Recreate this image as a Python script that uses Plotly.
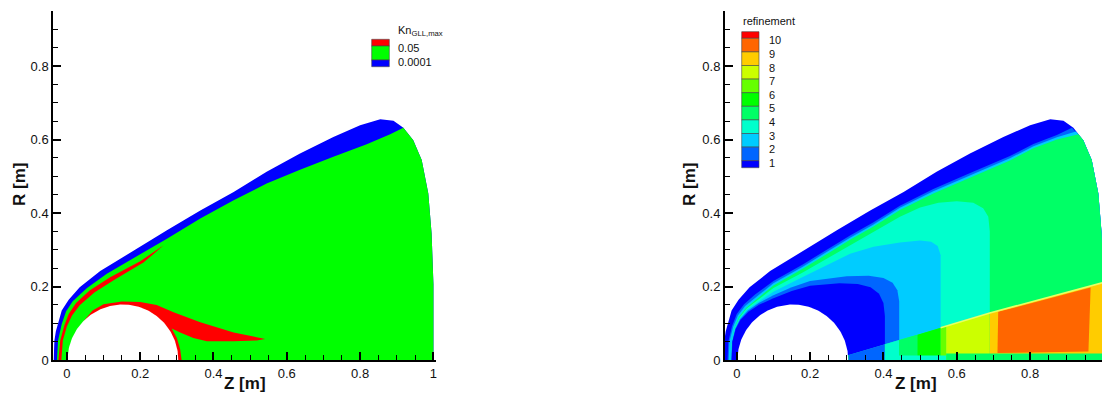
import numpy as np
import plotly.graph_objects as go

W, H = 1102, 394

# ---------------- data (Z, R in metres) ----------------
# outer boundary of the computational domain (same for both panels)
domain_z = [-0.036, -0.0355, -0.034, -0.030, -0.025, -0.014, 0.005, 0.035, 0.091, 0.182, 0.273, 0.364,
            0.455, 0.545, 0.636, 0.727, 0.800, 0.855, 0.891, 0.918, 0.945, 0.968, 0.986, 0.995, 1.000, 1.000]
domain_r = [0.000, 0.025, 0.053, 0.078, 0.098, 0.135, 0.164, 0.198, 0.242, 0.298, 0.353, 0.407,
            0.457, 0.512, 0.562, 0.607, 0.639, 0.655, 0.651, 0.632, 0.598, 0.544, 0.453, 0.344, 0.207, 0.000]
domain_back_start = 20  # first point of the rear (right-hand) side of the boundary

sphere_center_z = 0.153
sphere_radius = 0.151

# ---- left panel: Kn_GLL,max ----
kn_blue_inner_z = [-0.027, -0.024, -0.014, -0.002, 0.016, 0.055, 0.109, 0.191, 0.273, 0.364, 0.455,
                   0.545, 0.636, 0.727, 0.818, 0.882, 0.918]
kn_blue_inner_r = [0.000, 0.053, 0.098, 0.133, 0.160, 0.196, 0.235, 0.282, 0.330, 0.385, 0.435,
                   0.480, 0.518, 0.553, 0.587, 0.614, 0.632]
kn_shock_red_z = [-0.023, -0.018, -0.007, 0.005, 0.025, 0.062, 0.118, 0.200, 0.264,
                  0.209, 0.132, 0.075, 0.035, 0.014, 0.000, -0.011, -0.015]
kn_shock_red_r = [0.000, 0.053, 0.094, 0.125, 0.155, 0.189, 0.225, 0.269, 0.312,
                  0.265, 0.220, 0.184, 0.149, 0.121, 0.091, 0.053, 0.000]
kn_wake_red_z = [0.153, 0.045, 0.070, 0.100, 0.150, 0.200, 0.245, 0.291, 0.364, 0.455, 0.518, 0.541,
                 0.518, 0.455, 0.382, 0.345, 0.309, 0.286, 0.300, 0.309, 0.313]
kn_wake_red_r = [0.000, 0.105, 0.135, 0.152, 0.159, 0.158, 0.150, 0.130, 0.103, 0.075, 0.062, 0.057,
                 0.053, 0.051, 0.051, 0.060, 0.075, 0.086, 0.060, 0.030, 0.000]
kn_legend_labels = ["0.05", "0.0001"]

# ---- right panel: refinement ----
ref_layer1_z = [-0.025, -0.023, -0.013, 0.000, 0.020, 0.050, 0.100, 0.180, 0.309, 0.373, 0.445, 0.536,
                0.627, 0.682, 0.745, 0.809, 0.873, 0.914]
ref_layer1_r = [0.000, 0.050, 0.092, 0.125, 0.152, 0.178, 0.215, 0.260, 0.339, 0.375, 0.420, 0.465,
                0.505, 0.528, 0.555, 0.588, 0.612, 0.632]
ref_layer2_z = [-0.022, -0.020, -0.010, 0.003, 0.023, 0.053, 0.100, 0.180, 0.309, 0.373, 0.445, 0.536,
                0.627, 0.682, 0.745, 0.809, 0.873, 0.925]
ref_layer2_r = [0.000, 0.050, 0.090, 0.121, 0.147, 0.172, 0.209, 0.254, 0.333, 0.369, 0.414, 0.459,
                0.499, 0.522, 0.549, 0.582, 0.606, 0.622]
ref_layer4_z = [-0.015, -0.013, -0.006, 0.006, 0.026, 0.056, 0.100, 0.180, 0.309, 0.373, 0.445, 0.536,
                0.627, 0.682, 0.745, 0.809, 0.873, 0.932]
ref_layer4_r = [0.000, 0.050, 0.088, 0.117, 0.142, 0.166, 0.203, 0.248, 0.327, 0.363, 0.408, 0.453,
                0.493, 0.516, 0.543, 0.576, 0.600, 0.614]
ref_lvl3_z = [-0.015, -0.013, -0.006, 0.007, 0.027, 0.057, 0.100, 0.180, 0.250, 0.309, 0.373, 0.445,
              0.500, 0.550, 0.600, 0.645, 0.672, 0.686, 0.690, 0.690]
ref_lvl3_r = [0.000, 0.050, 0.087, 0.115, 0.140, 0.163, 0.196, 0.238, 0.278, 0.312, 0.350, 0.390,
              0.415, 0.428, 0.432, 0.428, 0.413, 0.390, 0.350, 0.128]
ref_lvl2_z = [-0.015, -0.013, -0.005, 0.008, 0.028, 0.058, 0.100, 0.180, 0.250, 0.309, 0.373, 0.445,
              0.500, 0.530, 0.548, 0.556, 0.556]
ref_lvl2_r = [0.000, 0.050, 0.086, 0.113, 0.137, 0.158, 0.186, 0.226, 0.260, 0.289, 0.308, 0.320,
              0.325, 0.322, 0.310, 0.285, 0.088]
ref_lvl1_z = [-0.015, -0.0125, -0.004, 0.009, 0.030, 0.060, 0.100, 0.150, 0.200, 0.300, 0.360, 0.400,
              0.425, 0.438, 0.443, 0.443]
ref_lvl1_r = [0.000, 0.050, 0.085, 0.111, 0.134, 0.155, 0.176, 0.198, 0.215, 0.228, 0.229, 0.223,
              0.210, 0.190, 0.160, 0.0545]
ref_lvl0_z = [-0.014, -0.012, -0.003, 0.010, 0.032, 0.062, 0.100, 0.150, 0.200, 0.280, 0.330, 0.365,
              0.388, 0.400, 0.404, 0.404]
ref_lvl0_r = [0.000, 0.050, 0.084, 0.109, 0.131, 0.151, 0.168, 0.188, 0.202, 0.209, 0.207, 0.198,
              0.180, 0.155, 0.120, 0.043]
# wake wedge below the oblique line, split in axial strips
wedge_edges_z = [0.305, 0.404, 0.443, 0.468, 0.493, 0.556, 0.571, 0.690, 1.000]
wedge_edges_r = [0.0135, 0.043, 0.0545, 0.062, 0.069, 0.088, 0.0926, 0.128, 0.211]
wedge_levels = [1, 3, 4, 4, 5, 6, 7, 8]
bottom_edges_z = [0.404, 0.571, 1.000]
bottom_heights = [0.012, 0.018]
bottom_levels = [3, 4]
orange_z = [0.711, 0.959, 0.965, 0.713]
orange_r = [0.019, 0.023, 0.197, 0.131]
orange_level = 9
ref_legend_labels = ["10", "9", "8", "7", "6", "5", "4", "3", "2", "1"]

# ---------------- styles ----------------
KN_BLUE, KN_GREEN, KN_RED = "#0000FF", "#00FF00", "#FF0000"
REF_PALETTE = ["#0000FF", "#0066FF", "#00CCFF", "#00FFCC", "#00FF66", "#00FF00",
               "#66FF00", "#CCFF00", "#FFCC00", "#FF6600", "#FF0000"]
FONT = "Liberation Sans, Arial, Helvetica, sans-serif"

fig = go.Figure()


def poly(z, r, color, ax="x", ay="y"):
    fig.add_trace(go.Scatter(x=list(z), y=list(r), xaxis=ax, yaxis=ay, mode="lines",
                             fill="toself", fillcolor=color, line=dict(width=0, color=color),
                             hoverinfo="skip", showlegend=False))


back_z = domain_z[domain_back_start:]
back_r = domain_r[domain_back_start:]
theta = np.linspace(0, np.pi, 121)
sph_z = sphere_center_z + sphere_radius * np.cos(theta)
sph_r = sphere_radius * np.sin(theta)

# ---- left panel ----
poly(domain_z, domain_r, KN_BLUE)
poly(kn_blue_inner_z + back_z, kn_blue_inner_r + back_r, KN_GREEN)
poly(kn_shock_red_z, kn_shock_red_r, KN_RED)
poly(kn_wake_red_z, kn_wake_red_r, KN_RED)
poly(sph_z, sph_r, "#FFFFFF")

# ---- right panel ----
A2 = dict(ax="x2", ay="y2")
poly(domain_z, domain_r, REF_PALETTE[0], **A2)
poly(ref_layer1_z + back_z, ref_layer1_r + back_r, REF_PALETTE[1], **A2)
poly(ref_layer2_z + back_z, ref_layer2_r + back_r, REF_PALETTE[2], **A2)
poly(ref_layer4_z + back_z, ref_layer4_r + back_r, REF_PALETTE[4], **A2)
line_start = (wedge_edges_z[0], wedge_edges_r[0])
for lz, lr, lev in [(ref_lvl3_z, ref_lvl3_r, 3), (ref_lvl2_z, ref_lvl2_r, 2),
                    (ref_lvl1_z, ref_lvl1_r, 1), (ref_lvl0_z, ref_lvl0_r, 0)]:
    poly(lz + [line_start[0], sphere_center_z], lr + [line_start[1], 0.0], REF_PALETTE[lev], **A2)
for i, lev in enumerate(wedge_levels):
    z0, z1 = wedge_edges_z[i], wedge_edges_z[i + 1]
    r0, r1 = wedge_edges_r[i], wedge_edges_r[i + 1]
    poly([z0, z1, z1, z0], [0.0, 0.0, r1, r0], REF_PALETTE[lev], **A2)
for i, lev in enumerate(bottom_levels):
    z0, z1 = bottom_edges_z[i], bottom_edges_z[i + 1]
    hh = bottom_heights[i]
    poly([z0, z1, z1, z0], [0.0, 0.0, hh, hh], REF_PALETTE[lev], **A2)
poly(orange_z, orange_r, REF_PALETTE[orange_level], **A2)
fig.add_trace(go.Scatter(x=wedge_edges_z[5:], y=wedge_edges_r[5:], xaxis="x2", yaxis="y2",
                         mode="lines", line=dict(color="#E6FF66", width=1.5),
                         hoverinfo="skip", showlegend=False))
poly(sph_z, sph_r, "#FFFFFF", **A2)

# ---------------- axes ----------------
ydom = [(H - 360) / H, (H - 10.9) / H]
common = dict(showline=True, linecolor="black", linewidth=2, ticks="inside", ticklen=8,
              tickwidth=2, tickcolor="black", tick0=0, dtick=0.2, showgrid=False, zeroline=False,
              automargin=False,
              tickfont=dict(family=FONT, size=13, color="#111"),
              minor=dict(ticks="inside", dtick=0.05, ticklen=5, tickwidth=1, tickcolor="black",
                         showgrid=False))
fig.update_layout(
    template="none",
    width=W, height=H, autosize=False, margin=dict(l=0, r=0, t=0, b=0, autoexpand=False),
    paper_bgcolor="white", plot_bgcolor="white", showlegend=False,
    xaxis=dict(domain=[53.3 / W, 436 / W], range=[-0.037, 1.007], anchor="y", **common),
    yaxis=dict(domain=ydom, range=[0, 0.95], anchor="x", **common),
    xaxis2=dict(domain=[725 / W, 1.0], range=[-0.032, 0.996], anchor="y2", **common),
    yaxis2=dict(domain=ydom, range=[0, 0.95], anchor="x2", **common),
)

ann = []
def text(px, py, s, size, bold=False, anchor="center", angle=0):
    ann.append(dict(x=px / W, y=1 - py / H, xref="paper", yref="paper", text=f"<b>{s}</b>" if bold else s,
                    showarrow=False, xanchor=anchor, yanchor="middle", textangle=angle,
                    font=dict(family=FONT, size=size, color="#111")))

text(245, 383, "Z [m]", 17, bold=True)
text(19, 185, "R [m]", 17, bold=True, angle=-90)
text(915.5, 383, "Z [m]", 17, bold=True)
text(689, 185, "R [m]", 17, bold=True, angle=-90)

shapes = []
def rect(x0, x1, y0, y1, color):
    shapes.append(dict(type="rect", xref="paper", yref="paper", x0=x0 / W, x1=x1 / W,
                       y0=1 - y1 / H, y1=1 - y0 / H, fillcolor=color,
                       line=dict(color="#444", width=0.6), layer="above"))

# left legend
rect(371.7, 389.3, 39.3, 46.0, KN_RED)
rect(371.7, 389.3, 46.0, 60.0, KN_GREEN)
rect(371.7, 389.3, 60.0, 66.7, KN_BLUE)
text(395.5, 31, "Kn<sub>GLL,max</sub>", 11, anchor="left")
text(395.5, 48.5, kn_legend_labels[0], 11, anchor="left")
text(395.5, 62, kn_legend_labels[1], 11, anchor="left")

# right legend
top, first, step, bottom = 31.7, 38.3, 13.6, 167.7
edges = [top] + [first + step * k for k in range(10)] + [bottom]
for k in range(11):
    rect(741.7, 759.0, edges[k], edges[k + 1], REF_PALETTE[10 - k])
for k, lab in enumerate(ref_legend_labels):
    text(767.0, edges[k + 1] + 2, lab, 11, anchor="left")
text(741.0, 21, "refinement", 11, anchor="left")

fig.update_layout(annotations=ann, shapes=shapes)
fig.write_html("out.html")
